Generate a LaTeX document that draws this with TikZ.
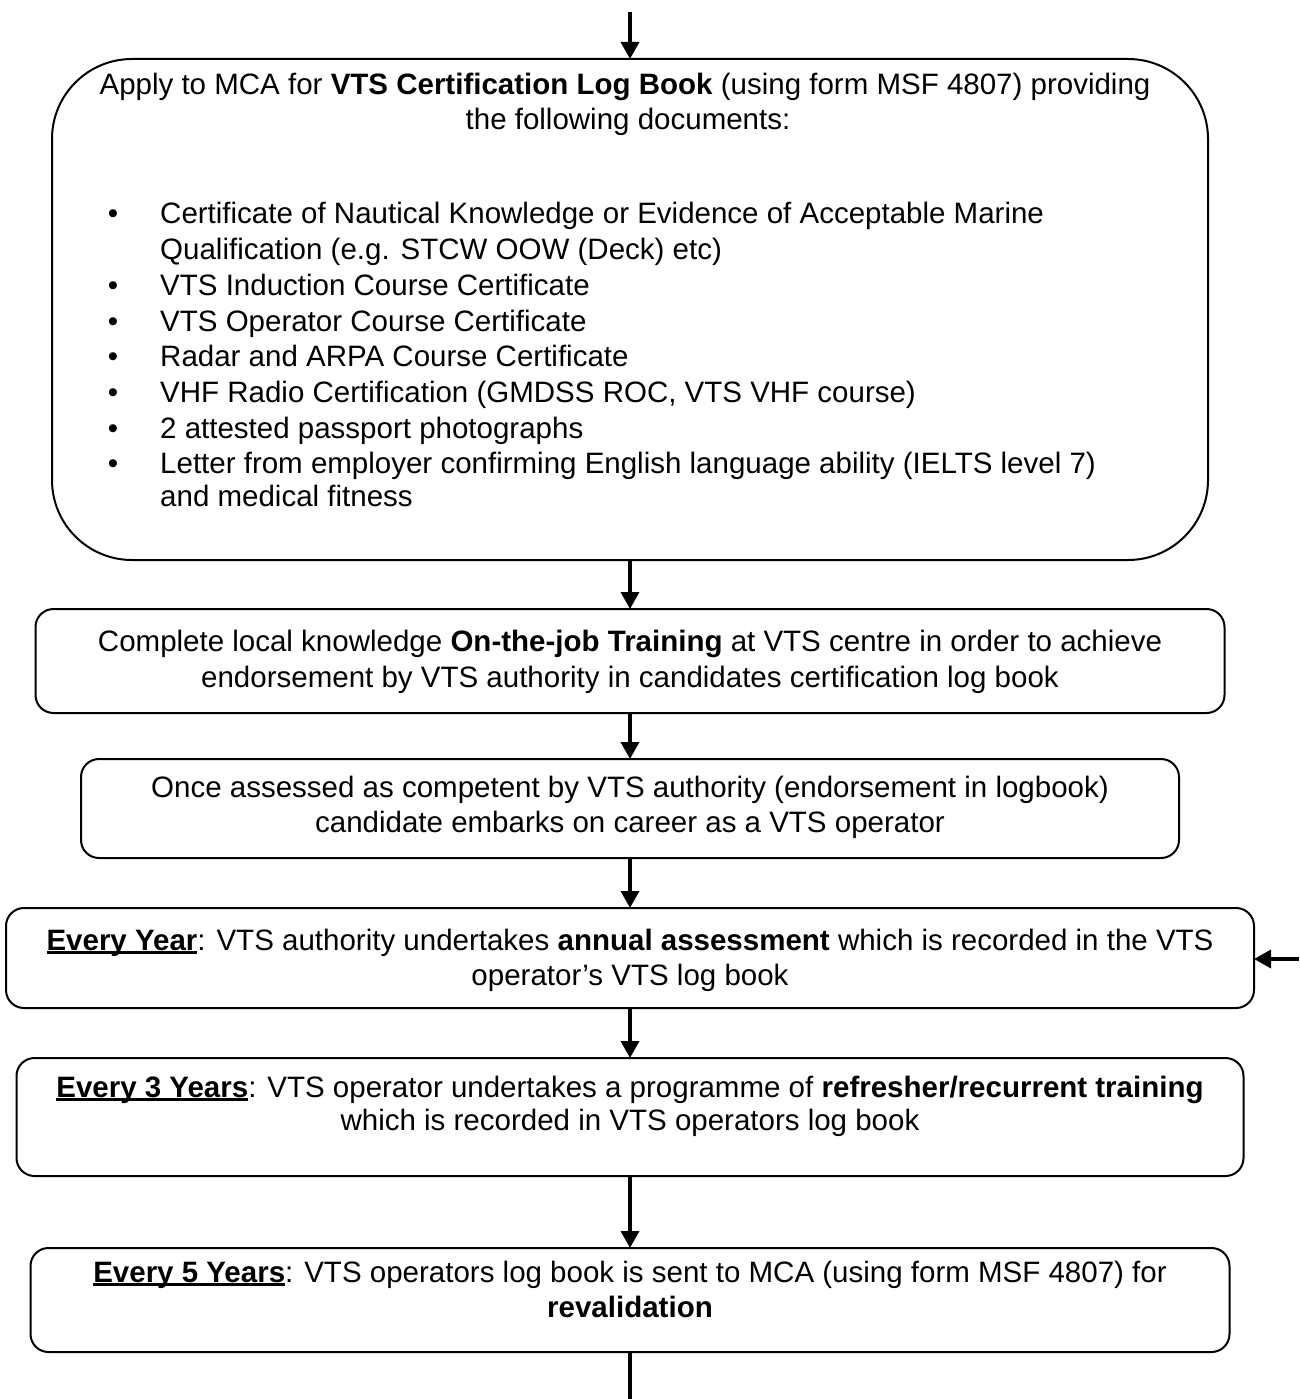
\documentclass[tikz,border=0pt]{standalone}
\usepackage{fontspec}
\setmainfont{Liberation Sans}
\usetikzlibrary{arrows.meta}
\newcommand\myul[1]{\sbox0{#1}\rlap{\rule[-4pt]{\wd0}{2.8pt}}\usebox0}
\begin{document}
\begin{tikzpicture}[x=1pt,y=-1pt,
  font=\fontsize{29.5}{35}\selectfont,
  box/.style={draw, line width=2pt, rounded corners=18pt, inner sep=0pt, outer sep=0pt},
  arr/.style={line width=3.5pt, -{Triangle[width=18pt,length=17pt]}},
  t/.style={inner sep=0pt, anchor=base},
  tl/.style={inner sep=0pt, anchor=base west}]
\useasboundingbox (0,0) rectangle (1299,1399);

% boxes
\node[box, rounded corners=80pt, minimum width=1156pt, minimum height=501pt] (b1) at (630,309.5) {};
\node[box, minimum width=1189pt, minimum height=104pt] (b2) at (630,661) {};
\node[box, minimum width=1098pt, minimum height=99pt] (b3) at (630,808.5) {};
\node[box, minimum width=1248pt, minimum height=100pt] (b4) at (630,958) {};
\node[box, minimum width=1227pt, minimum height=118pt] (b5) at (630,1117) {};
\node[box, minimum width=1199pt, minimum height=104pt] (b6) at (630,1300) {};

% box 1 text
\node[t] (h1) at (625,95) {Apply to MCA for \textbf{VTS Certification Log Book} (using form MSF 4807) providing};
\node[t] (h2) at (628,130) {the following documents:};
\foreach \y/\n in {223/i1,295/i2,331/i3,366/i4,402/i5,438/i6,473/i7}
  \node[t] (bul\n) at (113,\y) {\textbullet};
\node[tl] (l1) at (160,223) {Certificate of Nautical Knowledge or Evidence of Acceptable Marine};
\node[tl] (l2) at (160,259) {Qualification (e.g. STCW OOW (Deck) etc)};
\node[tl] (l3) at (160,295) {VTS Induction Course Certificate};
\node[tl] (l4) at (160,331) {VTS Operator Course Certificate};
\node[tl] (l5) at (160,366) {Radar and ARPA Course Certificate};
\node[tl] (l6) at (160,402) {VHF Radio Certification (GMDSS ROC, VTS VHF course)};
\node[tl] (l7) at (160,438) {2 attested passport photographs};
\node[tl] (l8) at (160,473) {Letter from employer confirming English language ability (IELTS level 7)};
\node[tl] (l9) at (160,506) {and medical fitness};

% box 2 text
\node[t] (c1) at (630,651) {Complete local knowledge \textbf{On-the-job Training} at VTS centre in order to achieve};
\node[t] (c2) at (630,687) {endorsement by VTS authority in candidates certification log book};
% box 3 text
\node[t] (d1) at (630,797) {Once assessed as competent by VTS authority (endorsement in logbook)};
\node[t] (d2) at (630,832) {candidate embarks on career as a VTS operator};
% box 4 text
\node[t] (e1) at (630,950) {\textbf{\myul{Every Year}}: VTS authority undertakes \textbf{annual assessment} which is recorded in the VTS};
\node[t] (e2) at (630,985) {operator’s VTS log book};
% box 5 text
\node[t] (f1) at (630,1097) {\textbf{\myul{Every 3 Years}}: VTS operator undertakes a programme of \textbf{refresher/recurrent training}};
\node[t] (f2) at (630,1130) {which is recorded in VTS operators log book};
% box 6 text
\node[t] (g1) at (630,1282) {\textbf{\myul{Every 5 Years}}: VTS operators log book is sent to MCA (using form MSF 4807) for};
\node[t] (g2) at (630,1317) {\textbf{revalidation}};

% connectors
\coordinate (top) at (630,12);
\coordinate (bot) at (630,1399);
\coordinate (rin) at (1299,959);
\draw[arr] (top) -- (b1.north);
\draw[arr] (b1.south) -- (b2.north);
\draw[arr] (b2.south) -- (b3.north);
\draw[arr] (b3.south) -- (b4.north);
\draw[arr] (b4.south) -- (b5.north);
\draw[arr] (b5.south) -- (b6.north);
\draw[line width=3.5pt] (b6.south) -- (bot);
\draw[arr] (rin) -- (b4.east |- rin);
\end{tikzpicture}
\end{document}
